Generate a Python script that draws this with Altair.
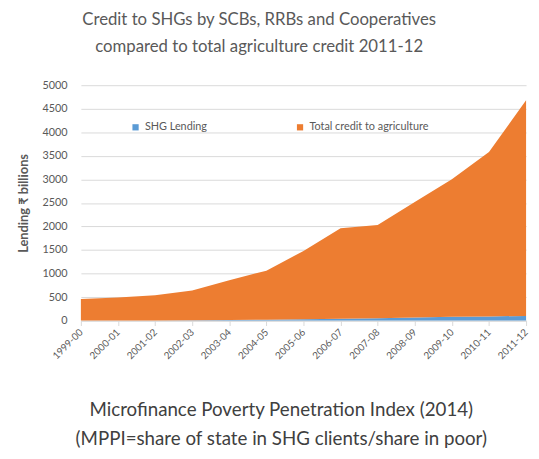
import altair as alt
import pandas as pd

years = ["1999-00", "2000-01", "2001-02", "2002-03", "2003-04", "2004-05",
         "2005-06", "2006-07", "2007-08", "2008-09", "2009-10", "2010-11", "2011-12"]
shg_lending = [2, 3, 5, 8, 12, 18, 28, 38, 50, 65, 80, 90, 100]
total_agri = [458, 487, 535, 632, 848, 1042, 1452, 1922, 1980, 2455, 2920, 3490, 4580]
series_names = ["SHG Lending", "Total credit to agriculture"]
y_ticks = [0, 500, 1000, 1500, 2000, 2500, 3000, 3500, 4000, 4500, 5000]

rows = []
for i, y in enumerate(years):
    rows.append({"year": y, "series": series_names[0], "value": shg_lending[i]})
    rows.append({"year": y, "series": series_names[1], "value": total_agri[i]})
df = pd.DataFrame(rows)

FONT = "Lato"
GREY = "#595959"

chart = alt.Chart(df).mark_area(opacity=1).encode(
    x=alt.X("year:O", sort=years,
            scale=alt.Scale(type="point", padding=0),
            axis=alt.Axis(
                title=["Microfinance Poverty Penetration Index  (2014)",
                       "(MPPI=share of state in SHG clients/share in poor)"],
                titleFont=FONT, titleFontSize=19, titleFontWeight="normal",
                titleColor="#404040", titleX=203, titleY=81,
                titleBaseline="top", titleLineHeight=30,
                labelAngle=-45, labelAlign="right", labelBaseline="middle",
                labelFont=FONT, labelFontSize=10,
                labelColor=GREY, labelPadding=5,
                tickSize=5, tickColor="#D9D9D9", domainColor="#D9D9D9",
                grid=False)),
    y=alt.Y("value:Q", stack="zero",
            scale=alt.Scale(domain=[0, 5000], nice=False),
            axis=alt.Axis(
                values=y_ticks, format="d", title="Lending \u20b9 billions",
                titleFont=FONT, titleFontSize=13, titleFontWeight="bold",
                titleColor=GREY, titlePadding=12,
                labelFont=FONT, labelFontSize=11, labelColor=GREY,
                labelPadding=14, tickSize=0, domain=False,
                gridColor="#D9D9D9", gridWidth=1)),
    color=alt.Color("series:N", sort=series_names,
                    scale=alt.Scale(domain=series_names, range=["#5B9BD5", "#ED7D31"]),
                    legend=alt.Legend(
                        title=None, orient="none", direction="horizontal",
                        legendX=50, legendY=37, symbolType="square",
                        symbolSize=40, labelFont=FONT, labelFontSize=11,
                        labelColor=GREY, columnPadding=88)),
    order=alt.Order("series:N", sort="ascending"),
).properties(
    width=452, height=239,
    title=alt.TitleParams(
        text=["Credit to SHGs by SCBs, RRBs and Cooperatives",
              "compared to total agriculture credit 2011-12"],
        font=FONT, fontSize=17, fontWeight="normal", color=GREY,
        anchor="middle", dx=-45, offset=24, lineHeight=27),
    autosize=alt.AutoSizeParams(type="none"),
    padding={"left": 74, "top": 75, "right": 5, "bottom": 130},
).configure_view(stroke=None)

chart.save("out.html", embed_options={"renderer": "svg", "actions": False})
